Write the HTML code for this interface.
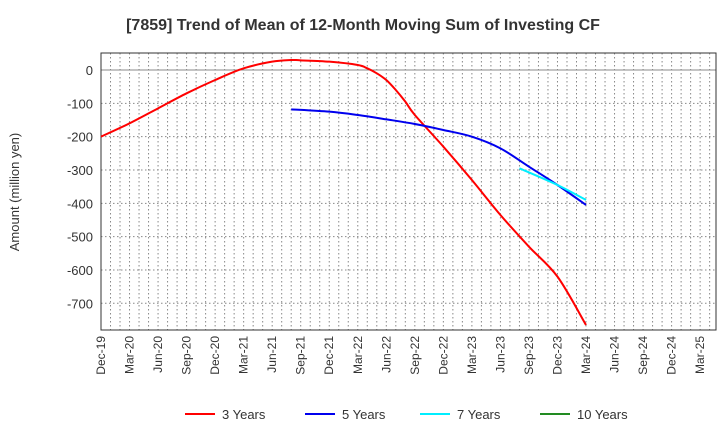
<!DOCTYPE html>
<html><head><meta charset="utf-8"><style>
body{margin:0;background:#fff;font-family:"Liberation Sans",sans-serif}
svg text{font-family:"Liberation Sans",sans-serif}
</style></head><body>
<svg id="chart" width="720" height="440">
<text x="363" y="30" text-anchor="middle" font-size="16" font-weight="bold" fill="#333">[7859]  Trend of Mean of 12-Month Moving Sum of Investing CF</text>
<text transform="translate(19,192) rotate(-90)" text-anchor="middle" font-size="13" fill="#333">Amount (million yen)</text>
<g id="grid"></g><g id="axes"></g><g id="series"></g><g id="legend"></g>
</svg>
<script>
const xLabels=["Dec-19","Mar-20","Jun-20","Sep-20","Dec-20","Mar-21","Jun-21","Sep-21","Dec-21","Mar-22","Jun-22","Sep-22","Dec-22","Mar-23","Jun-23","Sep-23","Dec-23","Mar-24","Jun-24","Sep-24","Dec-24","Mar-25"];
const yTicks=[0,-100,-200,-300,-400,-500,-600,-700];
// months since Dec-19
const m3=[0,3,6,9,12,15,18,20,21,24,27,28,29,30,31,32,33,36,39,42,45,48,51];
const v3=[-200,-160,-115,-70,-30,5,25,30,29,25,15,5,-10,-30,-60,-95,-135,-230,-330,-435,-530,-620,-765];
const m5=[20,24,27,30,33,36,39,42,45,48,51];
const v5=[-118,-125,-135,-148,-162,-180,-200,-235,-290,-345,-405];
const m7=[44,48,51];
const v7=[-295,-345,-390];
const m10=[];const v10=[];
const L=101,R=716,T=53,B=330,PXM=9.51;
const x=m=>L+PXM*m;
const y=v=>70-(v)*0.3333;
const NS="http://www.w3.org/2000/svg";
function mk(tag,attrs,parent,text){const e=document.createElementNS(NS,tag);for(const k in attrs)e.setAttribute(k,attrs[k]);if(text!==undefined)e.textContent=text;document.getElementById(parent).appendChild(e);return e;}
for(let m=1;x(m)<R-1;m++){const g=mk('line',{x1:x(m),x2:x(m),y1:T,y2:B,stroke:'#888','stroke-dasharray':'1.5,2.5','stroke-width':1},'grid');

}
yTicks.forEach(v=>{const g=mk('line',{x1:L,x2:R,y1:y(v),y2:y(v),stroke:'#888','stroke-dasharray':v===0?'none':'1.5,2.5'},'grid');


const t=mk('text',{x:L-8,y:y(v)+5,'text-anchor':'end','font-size':13,fill:'#333'},'axes',v);

});
const fr=mk('rect',{x:L,y:T,width:R-L,height:B-T,fill:'none',stroke:'#333'},'axes');


xLabels.forEach((s,i)=>{const xx=x(i*3);const t=mk('text',{transform:`translate(${xx+4},${B+6}) rotate(-90)`,'text-anchor':'end','font-size':12,fill:'#333'},'axes',s);

});
function smooth(pts){let d='M'+pts[0][0]+','+pts[0][1];for(let i=0;i<pts.length-1;i++){const p0=pts[i-1]||pts[i],p1=pts[i],p2=pts[i+1],p3=pts[i+2]||p2;
const c1=[p1[0]+(p2[0]-p0[0])/6,p1[1]+(p2[1]-p0[1])/6],c2=[p2[0]-(p3[0]-p1[0])/6,p2[1]-(p3[1]-p1[1])/6];
d+=` C${c1[0]},${c1[1]} ${c2[0]},${c2[1]} ${p2[0]},${p2[1]}`;}return d;}
function series(ms,vs,color,name){if(!ms.length)return;const p=mk('path',{d:smooth(ms.map((m,i)=>[x(m),y(vs[i])])),fill:'none',stroke:color,'stroke-width':2,'stroke-linejoin':'round'},'series');

}
series(m3,v3,'#ff0000','series-3-years');
series(m5,v5,'#0000ee','series-5-years');
series(m7,v7,'#00eeff','series-7-years');
series(m10,v10,'#228b22','series-10-years');
[["3 Years","#ff0000",185],["5 Years","#0000ee",305],["7 Years","#00eeff",420],["10 Years","#228b22",540]].forEach(([n,c,lx])=>{
const l=mk('line',{x1:lx,x2:lx+30,y1:414,y2:414,stroke:c,'stroke-width':2},'legend');


const t=mk('text',{x:lx+37,y:419,'font-size':13,fill:'#333'},'legend',n);

});
</script>
</body></html>
